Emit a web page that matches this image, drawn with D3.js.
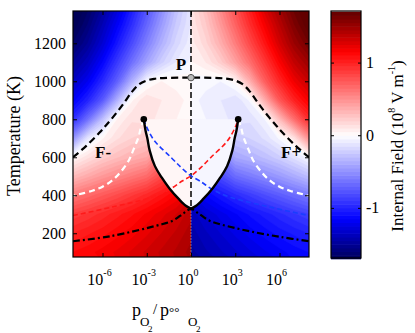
<!DOCTYPE html>
<html>
<head>
<meta charset="utf-8">
<script src="https://cdn.jsdelivr.net/npm/d3@7"></script>
<style>
  body { margin: 0; background: #fff; }
  text { font-family: "Liberation Serif", "Times New Roman", serif; fill: #000; }
</style>
</head>
<body>
<svg id="chart" width="415" height="333"></svg>
<script>
// ---- data ----
// grid of the internal field (10^8 V/m), columns = log10(pO2), rows = temperature (K)
var xLeft = [-8, -7, -6, -5, -4, -3, -2, -1, 0];
var xRight = [0, 1, 2, 3, 4, 5, 6, 7, 8];
var tRows = [100, 200, 300, 400, 500, 600, 700, 800, 900, 1000, 1100, 1200, 1300, 1400];

var fieldLeft = [
  [1.10, 1.13, 1.17, 1.21, 1.26, 1.31, 1.36, 1.41, 1.47],
  [1.00, 1.04, 1.08, 1.13, 1.18, 1.24, 1.30, 1.36, 1.43],
  [0.86, 0.91, 0.97, 1.03, 1.09, 1.16, 1.23, 1.30, 1.38],
  [0.60, 0.67, 0.74, 0.81, 0.89, 0.97, 1.06, 1.15, 1.27],
  [0.30, 0.38, 0.46, 0.53, 0.60, 0.67, 0.82, 0.95, 1.08],
  [0.02, 0.13, 0.22, 0.29, 0.35, 0.40, 0.62, 0.77, 0.92],
  [-0.50, -0.12, 0.04, 0.14, 0.20, 0.24, 0.40, 0.50, 0.60],
  [-0.95, -0.65, -0.30, 0.05, 0.14, 0.12, 0.08, 0.05, 0.04],
  [-1.18, -1.00, -0.75, -0.36, 0.04, 0.15, 0.10, 0.06, 0.04],
  [-1.35, -1.20, -0.98, -0.72, -0.36, -0.03, 0.05, 0.04, 0.03],
  [-1.50, -1.36, -1.15, -0.90, -0.65, -0.42, -0.22, -0.10, -0.04],
  [-1.65, -1.50, -1.30, -1.06, -0.82, -0.58, -0.36, -0.18, -0.07],
  [-1.75, -1.60, -1.40, -1.18, -0.95, -0.70, -0.46, -0.24, -0.10],
  [-1.80, -1.68, -1.50, -1.30, -1.05, -0.80, -0.55, -0.30, -0.12]
];
var fieldRight = [
  [-1.47, -1.41, -1.36, -1.31, -1.26, -1.21, -1.17, -1.13, -1.10],
  [-1.43, -1.36, -1.30, -1.24, -1.18, -1.13, -1.08, -1.04, -1.00],
  [-1.38, -1.30, -1.23, -1.16, -1.09, -1.03, -0.97, -0.91, -0.86],
  [-1.27, -1.15, -1.06, -0.97, -0.89, -0.81, -0.74, -0.67, -0.60],
  [-1.08, -0.95, -0.82, -0.67, -0.60, -0.53, -0.46, -0.38, -0.30],
  [-0.92, -0.77, -0.62, -0.40, -0.35, -0.29, -0.22, -0.13, -0.02],
  [-0.60, -0.50, -0.40, -0.24, -0.20, -0.14, -0.04, 0.12, 0.50],
  [-0.04, -0.05, -0.08, -0.12, -0.14, -0.05, 0.30, 0.65, 0.95],
  [-0.04, -0.06, -0.10, -0.15, -0.04, 0.36, 0.75, 1.00, 1.18],
  [-0.03, -0.04, -0.05, 0.03, 0.36, 0.72, 0.98, 1.20, 1.35],
  [0.04, 0.10, 0.22, 0.42, 0.65, 0.90, 1.15, 1.36, 1.50],
  [0.07, 0.18, 0.36, 0.58, 0.82, 1.06, 1.30, 1.50, 1.65],
  [0.10, 0.24, 0.46, 0.70, 0.95, 1.18, 1.40, 1.60, 1.75],
  [0.12, 0.30, 0.55, 0.80, 1.05, 1.30, 1.50, 1.68, 1.80]
];
var lensField = [0.04, -0.04];   // nearly white inside the two-phase lens

// curves: [log10 pO2, T]
var lensLeft = [[-3.2, 800], [-3.08, 740], [-2.96, 700], [-2.8, 635], [-2.46, 556], [-2.0, 495], [-1.46, 436], [-0.8, 378], [-0.35, 345], [0, 330]];
var lensRight = [[0, 330], [0.35, 345], [0.8, 378], [1.46, 436], [2.0, 495], [2.46, 556], [2.8, 635], [2.96, 700], [3.08, 740], [3.2, 800]];
var zeroLine = [[-8, 600], [-7.1, 660], [-6.2, 730], [-5.8, 765], [-5.3, 810], [-4.6, 880], [-4.0, 945], [-3.5, 985], [-3.0, 1004], [-2.5, 1013], [-1.9, 1017], [0, 1019],
                [1.9, 1017], [2.5, 1013], [3.0, 1004], [3.5, 985], [4.0, 945], [4.6, 880], [5.3, 810], [5.8, 765], [6.2, 730], [7.1, 660], [8, 600]];
var whiteLeft = [[-3.2, 800], [-3.4, 755], [-3.55, 709], [-3.9, 640], [-4.22, 583], [-4.8, 520], [-5.36, 477], [-6.0, 445], [-6.7, 424], [-8, 397]];
var whiteRight = [[3.2, 800], [3.4, 755], [3.55, 709], [3.9, 640], [4.22, 583], [4.8, 520], [5.36, 477], [6.0, 445], [6.7, 424], [8, 397]];
var redLine = [[-8, 293], [-5.4, 337], [-2.64, 390], [-1.5, 428], [-0.6, 475], [0, 502], [0.68, 547], [1.36, 600], [2.49, 688], [3.05, 767], [3.2, 800]];
var blueLine = [[-3.2, 800], [-3.05, 767], [-2.49, 688], [-1.36, 600], [-0.68, 547], [0, 502], [0.6, 475], [1.5, 428], [2.64, 390], [5.4, 337], [8, 293]];
var dashDot = [[-8, 158], [-5.5, 184], [-2.1, 245], [-1.2, 268], [-0.5, 305], [0, 328], [0.5, 305], [1.2, 268], [2.1, 245], [4.0, 210], [6.1, 180], [8, 158]];
var criticalPts = [[-3.2, 800], [3.2, 800]];
var pointP = [0, 1019];
var lensBottom = 330;

var xTicks = [-6, -3, 0, 3, 6];
var yTicks = [200, 400, 600, 800, 1000, 1200];
var cTicks = [-1, 0, 1];

// ---- layout ----
var svg = d3.select("#chart");
var plot = {left: 73, right: 309, top: 11, bottom: 257};
var x = d3.scaleLinear().domain([-8, 8]).range([plot.left, plot.right]);
var y = d3.scaleLinear().domain([75, 1370]).range([plot.bottom, plot.top]);
var cb = {left: 331, right: 361};
var cy = d3.scaleLinear().domain([-1.69, 1.71]).range([plot.bottom + 1, plot.top]);
var color = d3.scaleLinear()
  .domain([-1.7, -1.15, 0, 1.15, 1.7])
  .range(["#000058", "#0000ff", "#ffffff", "#ff0000", "#620000"])
  .clamp(true);

var defs = svg.append("defs");
defs.append("clipPath").attr("id", "clipL").append("rect")
  .attr("x", plot.left).attr("y", plot.top).attr("width", x(0) - plot.left).attr("height", plot.bottom - plot.top);
defs.append("clipPath").attr("id", "clipR").append("rect")
  .attr("x", x(0)).attr("y", plot.top).attr("width", plot.right - x(0)).attr("height", plot.bottom - plot.top);
defs.append("clipPath").attr("id", "clipAll").append("rect")
  .attr("x", plot.left).attr("y", plot.top).attr("width", plot.right - plot.left).attr("height", plot.bottom - plot.top);

var step = 0.05;
var levels = d3.range(-1.85, 1.8001, step);

function drawField(xs, grid, clipId) {
  var flat = [];
  grid.forEach(function(row) { row.forEach(function(v) { flat.push(v); }); });
  var cs = d3.contours().size([xs.length, tRows.length]).thresholds(levels)(flat);
  var path = d3.geoPath(d3.geoTransform({
    point: function(gx, gy) {
      var lx = xs[0] + (gx - 0.5) * (xs[1] - xs[0]);
      var t = tRows[0] + (gy - 0.5) * (tRows[1] - tRows[0]);
      this.stream.point(x(lx), y(t));
    }
  }));
  svg.append("g").attr("clip-path", "url(#" + clipId + ")")
    .selectAll("path").data(cs).join("path")
    .attr("d", path)
    .attr("fill", function(d) { return color(d.value + step / 2); })
    .attr("stroke", function(d) { return color(d.value + step / 2); })
    .attr("stroke-width", 0.6);
}
drawField(xLeft, fieldLeft, "clipL");
drawField(xRight, fieldRight, "clipR");

// lens interior
var smooth = d3.line().x(function(d) { return x(d[0]); }).y(function(d) { return y(d[1]); }).curve(d3.curveCatmullRom.alpha(0.5));
svg.append("path")
  .attr("d", smooth(lensLeft) + "L" + x(0) + "," + y(800) + "Z")
  .attr("fill", color(lensField[0]));
svg.append("path")
  .attr("d", smooth(lensRight) + "L" + x(0) + "," + y(800) + "Z")
  .attr("fill", color(lensField[1]));

// lines
var g = svg.append("g").attr("clip-path", "url(#clipAll)").attr("fill", "none");
g.append("line").attr("x1", x(0)).attr("x2", x(0)).attr("y1", y(lensBottom)).attr("y2", plot.bottom)
  .attr("stroke", "#aaaaaa").attr("stroke-width", 1.2).attr("stroke-dasharray", "1,2");
g.append("line").attr("x1", x(0)).attr("x2", x(0)).attr("y1", plot.top).attr("y2", y(lensBottom))
  .attr("stroke", "#000").attr("stroke-width", 1.5).attr("stroke-dasharray", "6,3");
g.append("path").attr("d", smooth(zeroLine)).attr("stroke", "#000").attr("stroke-width", 2.2).attr("stroke-dasharray", "7,4");
[whiteLeft, whiteRight].forEach(function(c) {
  g.append("path").attr("d", smooth(c)).attr("stroke", "#fff").attr("stroke-width", 2.2).attr("stroke-dasharray", "6,4");
});
g.append("path").attr("d", smooth(redLine)).attr("stroke", "#ff1a1a").attr("stroke-width", 1.6).attr("stroke-dasharray", "5,3");
g.append("path").attr("d", smooth(blueLine)).attr("stroke", "#1a3cff").attr("stroke-width", 1.6).attr("stroke-dasharray", "5,3");
g.append("path").attr("d", smooth(dashDot)).attr("stroke", "#000").attr("stroke-width", 2.2).attr("stroke-dasharray", "7,3,2,3");
[lensLeft, lensRight].forEach(function(c) {
  g.append("path").attr("d", smooth(c)).attr("stroke", "#000").attr("stroke-width", 2.4);
});
svg.selectAll(".cp").data(criticalPts).join("circle").attr("class", "cp")
  .attr("cx", function(d) { return x(d[0]); }).attr("cy", function(d) { return y(d[1]); })
  .attr("r", 3.3).attr("fill", "#000");
svg.append("circle").attr("cx", x(pointP[0])).attr("cy", y(pointP[1])).attr("r", 3.2)
  .attr("fill", "#bbbbbb").attr("stroke", "#555").attr("stroke-width", 1);

// labels in plot
svg.append("text").attr("x", x(pointP[0]) - 10).attr("y", 70).attr("font-size", 17).attr("font-weight", "bold").attr("text-anchor", "middle").text("P");
svg.append("text").attr("x", 95).attr("y", 158).attr("font-size", 17).attr("font-weight", "bold").text("F-");
svg.append("text").attr("x", 281).attr("y", 158).attr("font-size", 17).attr("font-weight", "bold").text("F+");

// frame and ticks
svg.append("rect").attr("x", plot.left).attr("y", plot.top).attr("width", plot.right - plot.left).attr("height", plot.bottom - plot.top)
  .attr("fill", "none").attr("stroke", "#000").attr("stroke-width", 1.2);

function tickAxis(axis, tx, ty) {
  var a = svg.append("g").attr("transform", "translate(" + tx + "," + ty + ")").call(axis);
  a.select(".domain").remove();
  a.selectAll("text").remove();
  return a;
}
tickAxis(d3.axisBottom(x).tickValues(xTicks).tickSize(-4), 0, plot.bottom);
tickAxis(d3.axisTop(x).tickValues(xTicks).tickSize(-4), 0, plot.top);
tickAxis(d3.axisRight(y).tickValues(yTicks).tickSize(-4), plot.right, 0);
var yAx = svg.append("g").attr("transform", "translate(" + plot.left + ",0)")
  .call(d3.axisLeft(y).tickValues(yTicks).tickSize(-4).tickPadding(7).tickFormat(d3.format("d")));
yAx.select(".domain").remove();
yAx.selectAll("text").attr("font-size", 16).attr("font-family", "Liberation Serif, serif").attr("fill", "#000");

// x tick labels 10^n
var xl = svg.selectAll(".xl").data(xTicks).join("text").attr("class", "xl")
  .attr("x", function(d) { return x(d) - 3; }).attr("y", 285)
  .attr("text-anchor", "middle").attr("font-size", 16);
xl.append("tspan").text("10");
xl.append("tspan").attr("font-size", 10).attr("dy", -9).text(function(d) { return d; });

// axis titles
svg.append("text").attr("transform", "translate(20,136) rotate(-90)").attr("text-anchor", "middle")
  .attr("font-size", 18).text("Temperature (K)");
var xt = [["p", 132, 316, 18], ["O", 140, 326, 13], ["2", 148, 332, 9], ["/", 153, 314, 15],
          ["p", 160, 316, 18], ["\u00b0\u00b0", 169, 316, 13], ["O", 188, 326, 13], ["2", 196, 332, 9]];
svg.selectAll(".xt").data(xt).join("text").attr("class", "xt")
  .attr("x", function(d) { return d[1]; }).attr("y", function(d) { return d[2]; })
  .attr("font-size", function(d) { return d[3]; }).text(function(d) { return d[0]; });

// colorbar
var bands = d3.range(-1.7, 1.7, step);
svg.append("g").selectAll("rect").data(bands).join("rect")
  .attr("x", cb.left).attr("width", cb.right - cb.left)
  .attr("y", function(d) { return cy(Math.min(d + step, 1.71)); })
  .attr("height", function(d) { return Math.abs(cy(d) - cy(Math.min(d + step, 1.71))) + 0.6; })
  .attr("fill", function(d) { return color(d + step / 2); });
svg.append("rect").attr("x", cb.left).attr("y", plot.top).attr("width", cb.right - cb.left).attr("height", plot.bottom - plot.top + 1)
  .attr("fill", "none").attr("stroke", "#000").attr("stroke-width", 1.2);
tickAxis(d3.axisRight(cy).tickValues(cTicks).tickSize(-3), cb.right, 0);
var cAx = svg.append("g").attr("transform", "translate(" + cb.left + ",0)")
  .call(d3.axisLeft(cy).tickValues(cTicks).tickSize(-3));
cAx.select(".domain").remove();
cAx.selectAll("text").remove();
svg.selectAll(".cl").data(cTicks).join("text").attr("class", "cl")
  .attr("x", 366).attr("y", function(d) { return cy(d); }).attr("dy", "0.35em")
  .attr("font-size", 16).text(function(d) { return d; });

var ct = svg.append("text").attr("transform", "translate(403,146) rotate(-90)").attr("text-anchor", "middle").attr("font-size", 17);
ct.append("tspan").text("Internal Field (10");
ct.append("tspan").attr("font-size", 10).attr("dy", -8).text("8");
ct.append("tspan").attr("dy", 8).text(" V m");
ct.append("tspan").attr("font-size", 10).attr("dy", -8).text("-1");
ct.append("tspan").attr("dy", 8).text(")");
</script>
</body>
</html>
